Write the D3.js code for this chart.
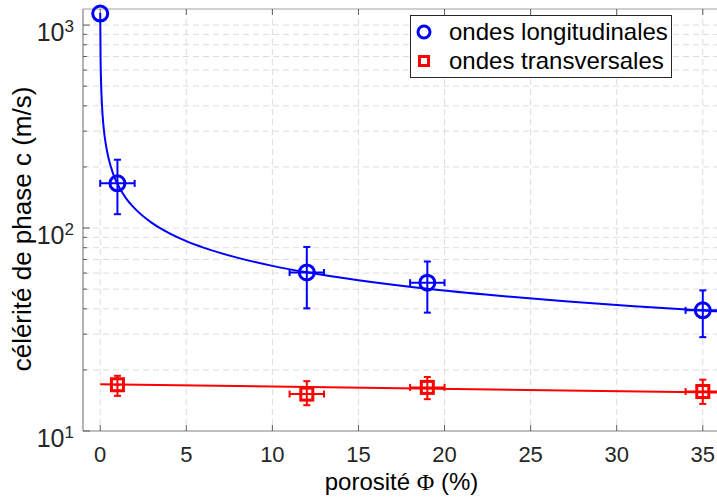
<!DOCTYPE html>
<html>
<head>
<meta charset="utf-8">
<script src="https://cdn.jsdelivr.net/npm/d3@7"></script>
<style>
  body { margin: 0; background: #fff; }
  svg { display: block; }
  text { font-family: "Liberation Sans", Arial, Helvetica, sans-serif; }
</style>
</head>
<body>
<svg id="chart" width="717" height="502"></svg>
<script>
// ---- data ----
const xTicks = [0, 5, 10, 15, 20, 25, 30, 35];
const yDecades = [10, 100, 1000];
const yDecadeExp = ["1", "2", "3"];

// longitudinal waves (blue circles)
const longPhi = [0, 1, 12, 19, 35];
const longC = [1140, 166, 60.4, 53.8, 39.3];
const longCLow = [null, 117, 40.2, 38.3, 29.0];
const longCHigh = [null, 217, 80.7, 68.4, 49.3];
const longPhiErr = [0, 1, 1, 1, 1];

// transverse waves (red squares)
const transPhi = [1, 12, 19, 35];
const transC = [16.9, 15.2, 16.4, 15.65];
const transCLow = [14.9, 13.4, 14.35, 13.6];
const transCHigh = [18.7, 17.6, 18.45, 17.9];
const transPhiErr = [0.2, 1, 1, 1];

// fitted curves
const longFitPhi = [0, 0.02, 0.05, 0.1, 0.2, 0.35, 0.5, 0.75, 1, 1.5, 2, 3, 4, 5, 6, 8, 10, 12, 15, 19, 23, 27, 31, 35, 36];
const longFitC = [1148, 700, 523, 407, 312, 251, 218, 185, 165, 140, 125, 106, 94.4, 86.2, 80.1, 71.3, 65.1, 60.5, 55.3, 50.2, 46.5, 43.6, 41.2, 39.2, 38.8];
const transFitPhi = [0, 36];
const transFitC = [17.0, 15.45];

const legendLabels = ["ondes longitudinales", "ondes transversales"];
const xLabel = "porosité ";
const xLabelSym = "Φ";
const xLabelEnd = " (%)";
const yLabel = "célérité de phase c (m/s)";

// ---- layout ----
const L = 83, R = 720, T = 9, B = 431;
const svg = d3.select("#chart");
const x = d3.scaleLinear().domain([-1, 36]).range([L, R]);
const y = d3.scaleLog().domain([10, 1200]).range([B, T]);

const blue = "#0000ff", red = "#ff0000";
const axisCol = "#262626";

svg.append("defs").append("clipPath").attr("id", "clip")
  .append("rect").attr("x", L).attr("y", T).attr("width", R - L).attr("height", B - T);

// grid
const grid = svg.append("g").attr("stroke", "#dcdcdc").attr("stroke-width", 1).attr("stroke-dasharray", "6,4");
xTicks.forEach(t => {
  grid.append("line").attr("x1", x(t)).attr("x2", x(t)).attr("y1", T).attr("y2", B);
});
const minorVals = [];
[10, 100, 1000].forEach(d => { for (let k = 1; k <= 9; k++) { const v = d * k; if (v >= 10 && v <= 1200) minorVals.push(v); } });
minorVals.forEach(v => {
  if (v === 10) return;
  grid.append("line").attr("x1", L).attr("x2", R).attr("y1", y(v)).attr("y2", y(v));
});

// axes frame
const ax = svg.append("g").attr("stroke", "#808080").attr("stroke-width", 1.2).attr("fill", "none");
ax.append("line").attr("x1", L).attr("x2", R).attr("y1", B).attr("y2", B);
ax.append("line").attr("x1", L).attr("x2", L).attr("y1", T).attr("y2", B);
ax.append("line").attr("x1", L).attr("x2", R).attr("y1", T).attr("y2", T).attr("stroke", "#a0a0a0");

// tick marks
const tk = svg.append("g").attr("stroke", "#606060").attr("stroke-width", 1);
xTicks.forEach(t => {
  tk.append("line").attr("x1", x(t)).attr("x2", x(t)).attr("y1", B).attr("y2", B - 6);
  tk.append("line").attr("x1", x(t)).attr("x2", x(t)).attr("y1", T).attr("y2", T + 6);
});
minorVals.forEach(v => {
  const major = yDecades.includes(v);
  tk.append("line").attr("x1", L).attr("x2", L + (major ? 7 : 4)).attr("y1", y(v)).attr("y2", y(v));
});

// x tick labels
svg.append("g").selectAll("text").data(xTicks).join("text")
  .attr("x", d => x(d)).attr("y", 462)
  .attr("text-anchor", "middle").attr("font-size", 22).attr("fill", axisCol)
  .text(d => d);

// y tick labels
yDecades.forEach((d, i) => {
  const t = svg.append("text").attr("x", 74).attr("y", y(d) + 16)
    .attr("text-anchor", "end").attr("font-size", 25).attr("fill", axisCol);
  t.append("tspan").text("10");
  t.append("tspan").attr("dy", -9).attr("font-size", 17).text(yDecadeExp[i]);
});

// axis labels
const xl = svg.append("text").attr("x", (L + R) / 2).attr("y", 490)
  .attr("text-anchor", "middle").attr("font-size", 24).attr("fill", "#000");
xl.append("tspan").text(xLabel);
xl.append("tspan").attr("font-family", "'Liberation Serif', 'DejaVu Serif', serif").text(xLabelSym);
xl.append("tspan").text(xLabelEnd);

svg.append("text").attr("transform", `translate(31,229) rotate(-90)`)
  .attr("text-anchor", "middle").attr("font-size", 26).attr("fill", "#000").text(yLabel);

// plot content
const plot = svg.append("g").attr("clip-path", "url(#clip)");
const line = d3.line().x(d => x(d[0])).y(d => y(d[1])).curve(d3.curveMonotoneX);

plot.append("path").datum(longFitPhi.map((p, i) => [p, longFitC[i]]))
  .attr("d", line).attr("fill", "none").attr("stroke", blue).attr("stroke-width", 2);
plot.append("path").datum(transFitPhi.map((p, i) => [p, transFitC[i]]))
  .attr("d", d3.line().x(d => x(d[0])).y(d => y(d[1]))).attr("fill", "none").attr("stroke", red).attr("stroke-width", 2);

function errorBars(g, phi, c, lo, hi, ex, col) {
  const cap = 3.5;
  phi.forEach((p, i) => {
    if (lo[i] != null) {
      g.append("line").attr("x1", x(p)).attr("x2", x(p)).attr("y1", y(lo[i])).attr("y2", y(hi[i]))
        .attr("stroke", col).attr("stroke-width", 2);
      [lo[i], hi[i]].forEach(v => g.append("line").attr("x1", x(p) - cap).attr("x2", x(p) + cap)
        .attr("y1", y(v)).attr("y2", y(v)).attr("stroke", col).attr("stroke-width", 2));
    }
    if (ex[i] > 0) {
      g.append("line").attr("x1", x(p - ex[i])).attr("x2", x(p + ex[i])).attr("y1", y(c[i])).attr("y2", y(c[i]))
        .attr("stroke", col).attr("stroke-width", 2);
      if (ex[i] >= 0.5) {
        [p - ex[i], p + ex[i]].forEach(v => g.append("line").attr("x1", x(v)).attr("x2", x(v))
          .attr("y1", y(c[i]) - cap).attr("y2", y(c[i]) + cap).attr("stroke", col).attr("stroke-width", 2));
      }
    }
  });
}
errorBars(plot, longPhi, longC, longCLow, longCHigh, longPhiErr, blue);
errorBars(plot, transPhi, transC, transCLow, transCHigh, transPhiErr, red);

// markers
svg.append("g").selectAll("circle").data(longPhi).join("circle")
  .attr("cx", d => x(d)).attr("cy", (d, i) => y(longC[i])).attr("r", 7.5)
  .attr("fill", "none").attr("stroke", blue).attr("stroke-width", 3);
svg.append("g").selectAll("rect").data(transPhi).join("rect")
  .attr("x", d => x(d) - 6).attr("y", (d, i) => y(transC[i]) - 6).attr("width", 12).attr("height", 12)
  .attr("fill", "none").attr("stroke", red).attr("stroke-width", 3);

// legend
const lg = svg.append("g");
lg.append("rect").attr("x", 410.5).attr("y", 15.5).attr("width", 261).attr("height", 62)
  .attr("fill", "#fff").attr("stroke", "#262626").attr("stroke-width", 1);
lg.append("circle").attr("cx", 424).attr("cy", 32).attr("r", 6)
  .attr("fill", "none").attr("stroke", blue).attr("stroke-width", 3);
lg.append("rect").attr("x", 419.5).attr("y", 56.5).attr("width", 9).attr("height", 9)
  .attr("fill", "none").attr("stroke", red).attr("stroke-width", 3);
legendLabels.forEach((s, i) => {
  lg.append("text").attr("x", 449).attr("y", 40 + i * 29).attr("font-size", 24)
    .attr("fill", "#000").text(s);
});
</script>
</body>
</html>
